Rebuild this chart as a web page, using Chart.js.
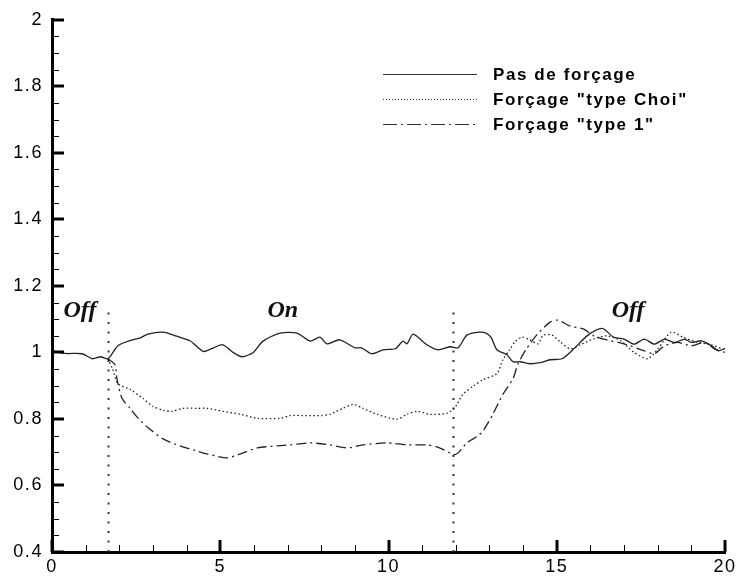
<!DOCTYPE html>
<html>
<head>
<meta charset="utf-8">
<script src="https://cdn.jsdelivr.net/npm/chart.js@4/dist/chart.umd.min.js"></script>
<style>
html,body{margin:0;padding:0;background:#fff;}
#wrap{width:740px;height:580px;position:relative;}
</style>
</head>
<body>
<div id="wrap"><canvas id="c" width="740" height="580"></canvas></div>
<script>
// ---- data ----
const seriesNames = ['Pas de forçage', 'Forçage "type Choi"', 'Forçage "type 1"'];

const xNone = [0,0.4,0.9,1.2,1.45,1.66,1.96,2.3,2.6,2.85,3.3,3.7,4.1,4.5,4.8,5.08,5.38,5.65,5.98,6.27,6.78,7.28,7.67,7.96,8.17,8.55,9.0,9.2,9.5,9.84,10.2,10.43,10.55,10.73,11.14,11.47,11.83,12.07,12.33,12.7,12.9,13.05,13.22,13.52,13.7,13.91,14.2,14.5,14.8,15.16,15.48,15.93,16.35,16.7,17.0,17.3,17.6,17.9,18.2,18.5,18.8,19.0,19.3,19.6,19.8,20];
const yNone = [1.005,0.997,0.996,0.981,0.987,0.981,1.02,1.035,1.043,1.055,1.061,1.049,1.035,1.003,1.014,1.023,1.0,0.987,1.0,1.034,1.058,1.058,1.034,1.046,1.026,1.038,1.014,1.014,0.996,1.008,1.011,1.034,1.026,1.055,1.023,1.008,1.017,1.014,1.052,1.061,1.058,1.045,1.008,0.993,0.972,0.972,0.966,0.969,0.978,0.981,1.008,1.052,1.072,1.045,1.04,1.025,1.04,1.025,1.04,1.03,1.04,1.03,1.035,1.02,1.005,1.012];

const xChoi = [1.66,1.8,1.96,2.32,2.7,3.0,3.3,3.57,3.9,4.3,4.6,5.08,5.6,6.1,6.78,7.07,7.58,8.0,8.26,8.65,8.95,9.24,9.66,10.25,10.55,10.85,11.23,11.74,11.98,12.21,12.51,12.81,13.22,13.4,13.6,13.76,13.97,14.2,14.44,14.6,14.86,15.1,15.4,15.7,16.1,16.5,16.9,17.3,17.7,18.0,18.4,18.75,19.2,19.6,19.9];
const yChoi = [0.981,0.95,0.906,0.889,0.862,0.838,0.826,0.823,0.832,0.832,0.832,0.823,0.814,0.802,0.802,0.81,0.81,0.81,0.814,0.832,0.844,0.832,0.814,0.799,0.814,0.823,0.814,0.817,0.835,0.874,0.898,0.918,0.936,0.978,1.008,1.032,1.046,1.038,1.026,1.052,1.052,1.032,1.011,1.023,1.041,1.05,1.035,1.0,0.981,1.01,1.061,1.046,1.03,1.023,1.011];

const xType1 = [1.66,1.87,1.93,2.08,2.32,2.56,2.91,3.3,3.8,4.3,4.6,5.2,5.6,6.1,6.7,7.07,7.67,8.26,8.77,9.24,9.96,10.55,11.14,11.44,11.83,11.92,12.07,12.33,12.66,12.81,13.1,13.4,13.7,13.85,14.1,14.4,14.8,15.04,15.4,15.8,16.1,16.4,17.0,17.6,17.9,18.2,18.6,19.0,19.4,19.7,20];
const yType1 = [0.981,0.963,0.921,0.862,0.832,0.802,0.769,0.74,0.719,0.704,0.695,0.683,0.695,0.713,0.719,0.722,0.728,0.722,0.713,0.722,0.728,0.722,0.722,0.716,0.698,0.692,0.698,0.728,0.749,0.764,0.814,0.874,0.921,0.966,1.011,1.052,1.091,1.097,1.079,1.07,1.05,1.04,1.026,1.005,0.996,1.02,1.03,1.02,1.03,1.01,1.0];

// forcing on/off markers
const switchTimes = [1.68, 11.93];
const switchLineTop = 1.12;
const phaseLabels = ['Off', 'On', 'Off'];
const phaseLabelX = [0.83, 6.86, 17.12];
const phaseLabelY = 1.13;

const xTicks = [0, 5, 10, 15, 20];
const yTicks = [0.4, 0.6, 0.8, 1, 1.2, 1.4, 1.6, 1.8, 2];

// ---- build ----
function pts(xs, ys){ return xs.map((x,i)=>({x:x, y:ys[i]})); }

const styles = [
  {color:'#222', width:1.3, dash:[]},
  {color:'#222', width:1.3, dash:[1.5,2.5]},
  {color:'#222', width:1.3, dash:[10,4,2,4]}
];

const datasets = [
  {label:seriesNames[0], data:pts(xNone,yNone)},
  {label:seriesNames[1], data:pts(xChoi,yChoi)},
  {label:seriesNames[2], data:pts(xType1,yType1)}
].map((d,i)=>Object.assign(d,{borderColor:styles[i].color, borderWidth:styles[i].width, borderDash:styles[i].dash, pointRadius:0, tension:0.25, fill:false}));

switchTimes.forEach(t=>{
  datasets.push({label:'_switch', data:[{x:t,y:0.4},{x:t,y:switchLineTop}], borderColor:'#333', borderWidth:2, borderDash:[2,7.5], pointRadius:0, fill:false});
});

const spacing = {
  id:'spacing',
  beforeDraw(chart){ chart.ctx.letterSpacing = '1.6px'; }
};

const decor = {
  id:'decor',
  afterDraw(chart){
    const ctx = chart.ctx, xs = chart.scales.x, ys = chart.scales.y, ca = chart.chartArea;
    ctx.save();
    ctx.strokeStyle = '#000';
    // x ticks (inward)
    for (let v=0; v<=20; v++){
      const px = Math.round(xs.getPixelForValue(v));
      const major = v%5===0;
      ctx.lineWidth = major?3:1;
      ctx.beginPath();
      ctx.moveTo(px+(major?0:0.5), ca.bottom);
      ctx.lineTo(px+(major?0:0.5), ca.bottom-(major?12:7));
      ctx.stroke();
    }
    // y ticks (inward)
    for (let k=0; k<=32; k++){
      const v = 0.4 + k*0.05;
      const py = Math.round(ys.getPixelForValue(v));
      const major = k%4===0;
      ctx.lineWidth = major?3:1;
      ctx.beginPath();
      ctx.moveTo(ca.left, py+(major?0:0.5));
      ctx.lineTo(ca.left+(major?12:7), py+(major?0:0.5));
      ctx.stroke();
    }
    // phase labels
    ctx.letterSpacing = '0px';
    ctx.fillStyle = '#111';
    ctx.font = 'italic bold 24px "Liberation Serif", "Times New Roman", serif';
    ctx.textAlign = 'center';
    ctx.textBaseline = 'alphabetic';
    phaseLabels.forEach((t,i)=>{
      ctx.fillText(t, xs.getPixelForValue(phaseLabelX[i]), ys.getPixelForValue(phaseLabelY)+8);
    });
    // legend
    const lx0 = 383, lx1 = 477, tx = 493, rows = [74, 99, 124];
    ctx.font = 'bold 17px "Liberation Sans", Arial, sans-serif';
    ctx.letterSpacing = '1.6px';
    ctx.textAlign = 'left';
    ctx.textBaseline = 'middle';
    const legDash = [[], [1,2], [14,4,2,4]];
    seriesNames.forEach((n,i)=>{
      ctx.strokeStyle = '#333';
      ctx.lineWidth = 1.2;
      ctx.setLineDash(legDash[i]);
      ctx.beginPath();
      ctx.moveTo(lx0, rows[i]+0.5);
      ctx.lineTo(lx1, rows[i]+0.5);
      ctx.stroke();
      ctx.setLineDash([]);
      ctx.fillStyle = '#000';
      ctx.fillText(n, tx, rows[i]+1);
    });
    ctx.restore();
  }
};

new Chart(document.getElementById('c'), {
  type:'line',
  data:{datasets:datasets},
  options:{
    responsive:false,
    animation:false,
    layout:{padding:{top:15, right:15, bottom:0, left:0}},
    plugins:{legend:{display:false}, tooltip:{enabled:false}},
    scales:{
      x:{
        type:'linear', min:0, max:20,
        afterBuildTicks(s){ s.ticks = xTicks.map(v=>({value:v})); },
        afterFit(s){ s.height = 28; },
        grid:{display:false, drawTicks:false},
        border:{display:true, color:'#000', width:3},
        ticks:{color:'#000', padding:4, font:{family:'"Liberation Sans", Arial, sans-serif', size:18}, maxRotation:0}
      },
      y:{
        type:'linear', min:0.4, max:2,
        afterBuildTicks(s){ s.ticks = yTicks.map(v=>({value:v})); },
        afterFit(s){ s.width = 52; },
        grid:{display:false, drawTicks:false},
        border:{display:true, color:'#000', width:3},
        ticks:{color:'#000', padding:9, font:{family:'"Liberation Sans", Arial, sans-serif', size:18}, callback:v=>String(+v.toFixed(1))}
      }
    }
  },
  plugins:[spacing, decor]
});
</script>
</body>
</html>
